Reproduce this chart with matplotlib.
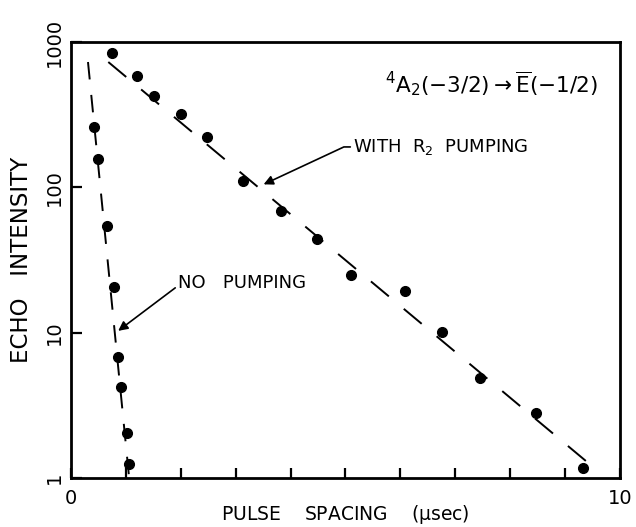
import matplotlib
matplotlib.use('Agg')
import matplotlib.pyplot as plt

plt.rcParams['font.family'] = ['DejaVu Sans']
plt.rcParams['mathtext.default'] = 'regular'

# pulse spacing (usec) and echo intensity
with_x = [0.75, 1.21, 1.52, 2.01, 2.47, 3.14, 3.82, 4.48, 5.10, 6.09, 6.76, 7.46, 8.48, 9.32]
with_y = [841, 585, 426, 320, 222, 111, 69, 44, 25, 19.4, 10.1, 4.9, 2.8, 1.17]

no_x = [0.42, 0.49, 0.66, 0.79, 0.86, 0.91, 1.02, 1.06]
no_y = [261, 157, 54, 20.6, 6.8, 4.2, 2.04, 1.25]

# dashed fit lines (end points)
with_fit_x = [0.68, 9.56]
with_fit_y = [730, 1.15]
no_fit_x = [0.31, 1.06]
no_fit_y = [730, 1.0]

x_ticks = list(range(0, 11))
x_ticklabels = ['0', '', '', '', '', '', '', '', '', '', '10']
y_ticks = [1, 10, 100, 1000]
y_ticklabels = ['1', '10', '100', '1000']

fig = plt.figure(figsize=(6.36, 5.27), dpi=100)
ax = fig.add_axes([0.1116, 0.093, 0.863, 0.827])

lw = 1.4
ax.plot(with_fit_x, with_fit_y, color='black', lw=lw, dashes=(12, 10))
ax.plot(no_fit_x, no_fit_y, color='black', lw=lw, dashes=(9, 8))
ax.plot(with_x, with_y, 'o', color='black', ms=7)
ax.plot(no_x, no_y, 'o', color='black', ms=7)

ax.set_yscale('log')
ax.set_xlim(0, 10)
ax.set_ylim(1, 1000)

ax.set_xticks(x_ticks)
ax.set_xticklabels(x_ticklabels, fontsize=14)
ax.set_yticks(y_ticks)
ax.set_yticklabels(y_ticklabels, fontsize=14, rotation=90, va='center')
ax.yaxis.set_minor_locator(matplotlib.ticker.NullLocator())
ax.tick_params(axis='x', direction='in', length=7, width=1.6, pad=8)
ax.tick_params(axis='y', direction='in', length=8, width=1.6, pad=5)
for s in ax.spines.values():
    s.set_linewidth(2)

ax.set_xlabel('PULSE    SPACING    ($\\mu$sec)', fontsize=13.5)
ax.xaxis.set_label_coords(0.5, -0.058)
ax.set_ylabel('ECHO   INTENSITY', fontsize=16.5)
ax.yaxis.set_label_coords(-0.07, 0.5)

ax.text(0.96, 0.905, '$^{4}$A$_{2}$(\u22123/2)$\\rightarrow$$\\overline{\\rm E}$(\u22121/2)',
        transform=ax.transAxes, ha='right', va='center', fontsize=15.5)

arrow = dict(arrowstyle='-|>', color='black', lw=1.2, mutation_scale=14,
             shrinkA=0, shrinkB=0, relpos=(0, 0.5))
ax.annotate('WITH  R$_2$  PUMPING', xy=(3.51, 105), xytext=(5.14, 190),
            fontsize=13, va='center', ha='left',
            arrowprops=dict(arrow, connectionstyle='angle,angleA=0,angleB=25,rad=0'))
ax.annotate('NO   PUMPING', xy=(0.86, 10.3), xytext=(1.95, 22),
            fontsize=13, va='center', ha='left',
            arrowprops=dict(arrow, connectionstyle='angle,angleA=0,angleB=37,rad=0'))

fig.savefig('out.png', dpi=100)
